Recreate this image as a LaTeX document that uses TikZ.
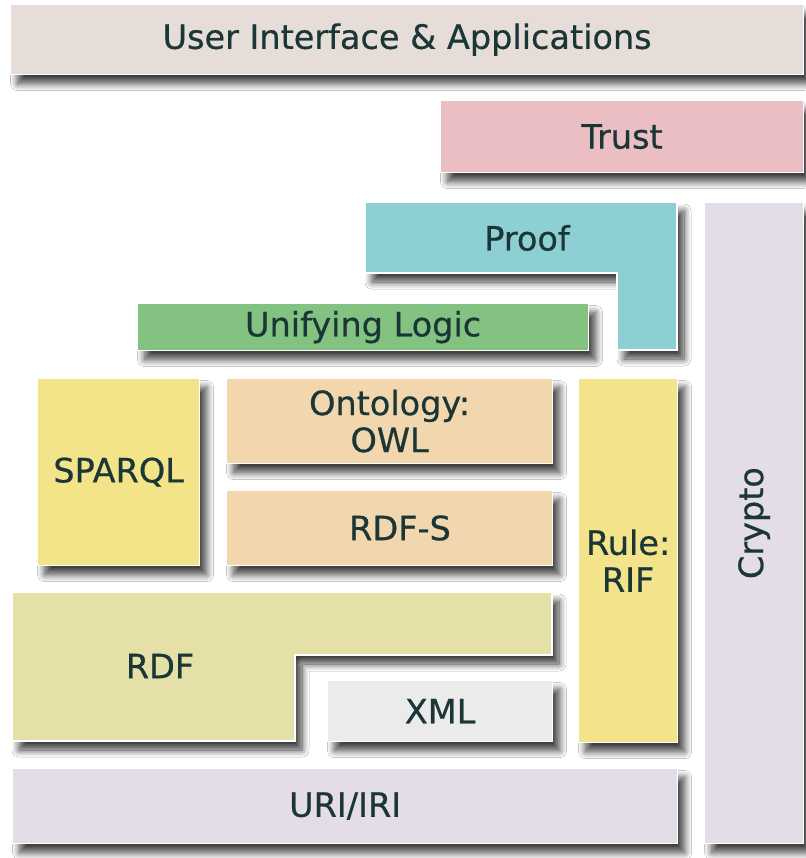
\documentclass[tikz,border=0pt]{standalone}
\usepackage{fontspec}
\setmainfont[FakeBold=0.6]{DejaVu Sans}
\usetikzlibrary{shadows.blur}

\definecolor{txt}{HTML}{1A3636}
\definecolor{cUI}{HTML}{E6DDD9}
\definecolor{cTrust}{HTML}{EBBEC4}
\definecolor{cProof}{HTML}{8ECFD3}
\definecolor{cLogic}{HTML}{84C282}
\definecolor{cCrypto}{HTML}{E4DDE7}
\definecolor{cSparql}{HTML}{F3E48A}
\definecolor{cOnto}{HTML}{F2D6AE}
\definecolor{cRule}{HTML}{F3E38A}
\definecolor{cRDF}{HTML}{E5DFA8}
\definecolor{cXML}{HTML}{EBEBEB}
\definecolor{cURI}{HTML}{E4DDE8}

\begin{document}
\begin{tikzpicture}[x=1pt, y=-1pt,
  layer/.style={fill=#1, draw=white, line width=1.2pt,
    blur shadow={shadow xshift=7pt, shadow yshift=-9pt,
      shadow blur radius=7pt, shadow blur steps=12, shadow opacity=75}},
  slab/.style={layer=#1, anchor=north west, inner sep=0pt,
    text=txt, font=\fontsize{33.5}{37}\selectfont, align=center},
  lbl/.style={text=txt, font=\fontsize{33.5}{37}\selectfont, align=center}]

\useasboundingbox[fill=white] (0,0) rectangle (805,858);

% single rectangular layers
\node[slab=cUI, minimum width=793pt, minimum height=70pt] (ui) at (10,4) {User Interface \& Applications};
\node[slab=cTrust, minimum width=363pt, minimum height=72pt] (trust) at (440,100) {Trust};
\node[slab=cCrypto, minimum width=99pt, minimum height=641pt] (cryptobox) at (704,202) {};
\node[lbl, rotate=90] (crypto) at (cryptobox.center) {Crypto};

% Proof: L-shaped layer
\path[layer=cProof] (365,202) -- (677,202) -- (677,350) -- (617,350) -- (617,273) -- (365,273) -- cycle;
\node[lbl] (proof) at (527,238) {Proof};

\node[slab=cLogic, minimum width=451pt, minimum height=47pt] (logic) at (137,303) {Unifying Logic};

\node[slab=cSparql, minimum width=162pt, minimum height=187pt] (sparql) at (37,378) {SPARQL};
\node[slab=cOnto, minimum width=326pt, minimum height=85pt] (owl) at (226,378) {Ontology:\\OWL};
\node[slab=cOnto, minimum width=326pt, minimum height=75pt] (rdfsbox) at (226,490) {};
\node[lbl] (rdfs) at (400,528) {RDF-S};
\node[slab=cRule, minimum width=99pt, minimum height=364pt] (rif) at (578,378) {Rule:\\RIF};

% RDF: L-shaped layer
\path[layer=cRDF] (12,592) -- (552,592) -- (552,655) -- (295,655) -- (295,741) -- (12,741) -- cycle;
\node[lbl] (rdf) at (160,666) {RDF};

\node[slab=cXML, minimum width=225pt, minimum height=61pt] (xml) at (327,680) {XML};
\node[slab=cURI, minimum width=665pt, minimum height=75pt] (uri) at (12,768) {URI/IRI};
\end{tikzpicture}
\end{document}
